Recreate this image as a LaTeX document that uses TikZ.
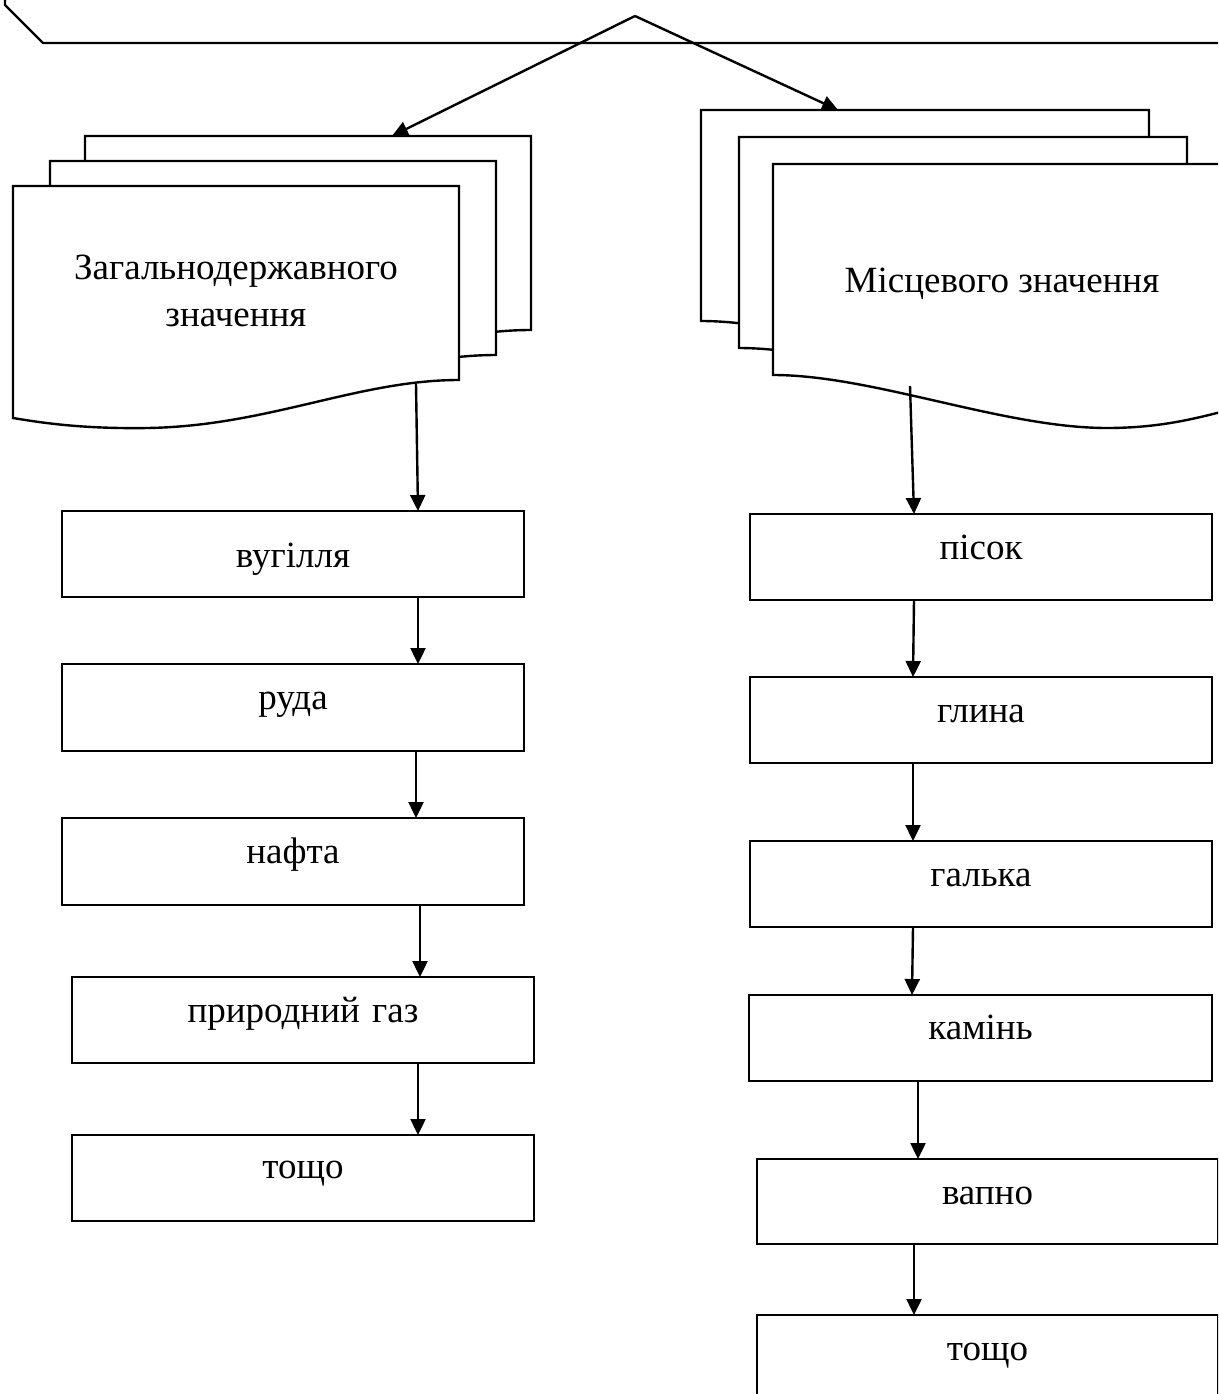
\documentclass[tikz,border=0pt]{standalone}
\usepackage{fontspec}
\setmainfont{Liberation Serif}
\usetikzlibrary{arrows.meta}
\begin{document}
\begin{tikzpicture}[x=1pt,y=-1pt,
  ln/.style={line width=2.4pt, line join=miter},
  arr/.style={line width=2.4pt, -{Triangle[length=16pt,width=15pt]}},
  docsh/.style={line width=2.4pt, fill=white, draw=black},
  txt/.style={font=\fontsize{37}{47}\selectfont},
  bx/.style={draw, line width=2.4pt, anchor=north west, inner sep=0pt, outer sep=0pt,
             align=center, txt, text width=#1},
  hd/.style 2 args={text height=#1, text depth=#2},
  lbl/.style={txt, align=center, inner sep=0pt},
  ldoc/.pic={\draw[docsh] (0,0) -- (446,0) -- (446,194)
      .. controls (345,194) and (255,240) .. (135,242)
      .. controls (70,243) and (30,237) .. (0,232) -- cycle;},
  rdoc/.pic={\draw[docsh] (0,0) -- (448,0) -- (448,248)
      .. controls (420,255) and (385,264) .. (334,264)
      .. controls (230,264) and (100,211) .. (0,211) -- cycle;}
]
\clip (0,0) rectangle (1218,1394);
\fill[white] (0,0) rectangle (1218,1394);

% top shape fragment
\draw[ln] (5,-3) -- (5,5) -- (43,43) -- (1230,43);
\coordinate (apex) at (635,16);

% left multi-document
\pic at (85,136) {ldoc};
\pic at (50,161) {ldoc};
\pic at (13,186) {ldoc};
\node[lbl] (Ltext) at (236,291) {Загальнодержавного\\значення};

% right multi-document
\pic at (701,110) {rdoc};
\pic at (739,137) {rdoc};
\pic at (773,164) {rdoc};
\node[lbl, anchor=base] (Rtext) at (1002,292) {Місцевого значення};

\coordinate (Ltop) at (392,136);
\coordinate (Rtop) at (838,110);
\coordinate (Lbot) at (416,384);
\coordinate (Rbot) at (910,386);

\draw[arr] (apex) -- (Ltop);
\draw[arr] (apex) -- (Rtop);

% left column
\node[bx=462pt, hd={56pt}{30pt}] (v1) at (62,511) {вугілля};
\node[bx=462pt, hd={45pt}{42pt}] (v2) at (62,664) {руда};
\node[bx=462pt, hd={45pt}{42pt}] (v3) at (62,818) {нафта};
\node[bx=462pt, hd={45pt}{41pt}] (v4) at (72,977) {природний газ};
\node[bx=462pt, hd={43pt}{43pt}] (v5) at (72,1135) {тощо};

% right column
\node[bx=462pt, hd={45pt}{41pt}] (p1) at (750,514) {пісок};
\node[bx=462pt, hd={45pt}{41pt}] (p2) at (750,677) {глина};
\node[bx=462pt, hd={45pt}{41pt}] (p3) at (750,841) {галька};
\node[bx=463pt, hd={44pt}{42pt}] (p4) at (749,995) {камінь};
\node[bx=461pt, hd={45pt}{40pt}] (p5) at (757,1159) {вапно};
\node[bx=461pt, hd={45pt}{60pt}] (p6) at (757,1315) {тощо};

% connectors
\draw[arr] (Lbot) -- ([xshift=356pt]v1.north west);
\draw[arr] ([xshift=356pt]v1.south west) -- ([xshift=356pt]v2.north west);
\draw[arr] ([xshift=354pt]v2.south west) -- ([xshift=354pt]v3.north west);
\draw[arr] ([xshift=358pt]v3.south west) -- ([xshift=348pt]v4.north west);
\draw[arr] ([xshift=346pt]v4.south west) -- ([xshift=346pt]v5.north west);

\draw[arr] (Rbot) -- ([xshift=164pt]p1.north west);
\draw[arr] ([xshift=164pt]p1.south west) -- ([xshift=163pt]p2.north west);
\draw[arr] ([xshift=163pt]p2.south west) -- ([xshift=163pt]p3.north west);
\draw[arr] ([xshift=163pt]p3.south west) -- ([xshift=163pt]p4.north west);
\draw[arr] ([xshift=169pt]p4.south west) -- ([xshift=161pt]p5.north west);
\draw[arr] ([xshift=157pt]p5.south west) -- ([xshift=157pt]p6.north west);
\end{tikzpicture}
\end{document}
